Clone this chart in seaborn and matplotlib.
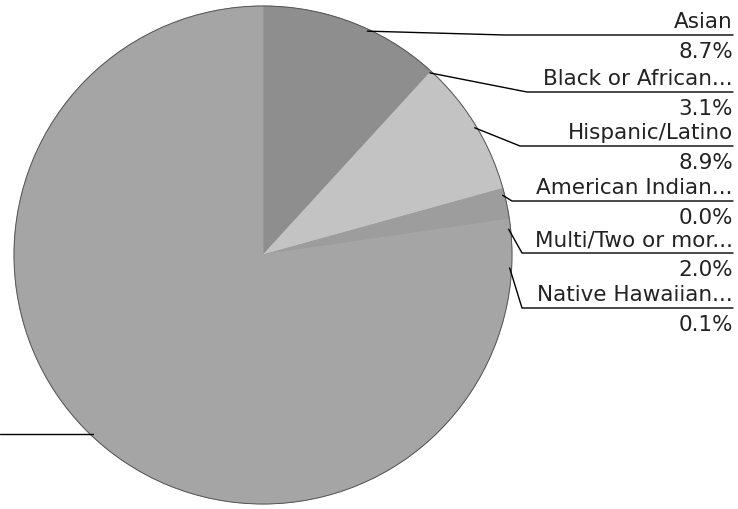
import numpy as np
import matplotlib.pyplot as plt
import seaborn as sns

# slice data, clockwise from 12 o'clock
groups = ["Asian", "Black or African...", "Hispanic/Latino", "American Indian...",
          "Multi/Two or mor...", "Native Hawaiian...", "White"]
shares = [8.7, 3.1, 8.9, 0.0, 2.0, 0.1, 77.2]
greys = ["#8e8e8e", "#8e8e8e", "#c3c3c3", "#a2a2a2", "#9d9d9d", "#a6a6a6", "#a5a5a5"]

# label layout (pixels from top of image)
line_y = [35, 92, 146, 201, 253, 308, 435]
elbow_x = [505, 527, 520, 512, 522, 522, 0]
anchor_deg = [25, 42.5, 59, 76, 84, 93, 223.5]

W, H = 738, 509
cx, cy, R = 263, H - 255, 249

sns.set_style("white")
plt.rcParams['font.family'] = ['DejaVu Sans']

fig = plt.figure(figsize=(W / 100, H / 100), dpi=100)
ax = fig.add_axes([0, 0, 1, 1])

wedges, _ = ax.pie(shares, colors=greys, startangle=90, counterclock=False,
                   center=(cx, cy), radius=R)
for w, c in zip(wedges, greys):
    w.set_edgecolor(c)
    w.set_linewidth(0.6)
ax.add_patch(plt.Circle((cx, cy), R, fill=False, edgecolor="#555555", lw=0.7))

for name, val, ly, ex, deg in zip(groups, shares, line_y, elbow_x, anchor_deg):
    t = np.deg2rad(deg)
    ax_x = cx + (R - 2) * np.sin(t)
    ax_y = cy + (R - 2) * np.cos(t)
    y = H - ly
    if name == "White":
        # label sits outside the picture, only the leader shows
        ax.plot([ax_x, ex], [ax_y, ax_y], color="black", lw=1.0)
        continue
    ax.plot([ax_x, ex, 733], [ax_y, y, y], color="black", lw=1.0)
    ax.text(733, y + 7, name, ha="right", va="baseline", fontsize=15.5, color="#222222")
    ax.text(733, y - 23, f"{val:.1f}%", ha="right", va="baseline", fontsize=15.5,
            color="#222222")

ax.set_xlim(0, W)
ax.set_ylim(0, H)
ax.set_aspect("equal")
ax.axis("off")

fig.savefig("out.png", dpi=100, facecolor="white")
